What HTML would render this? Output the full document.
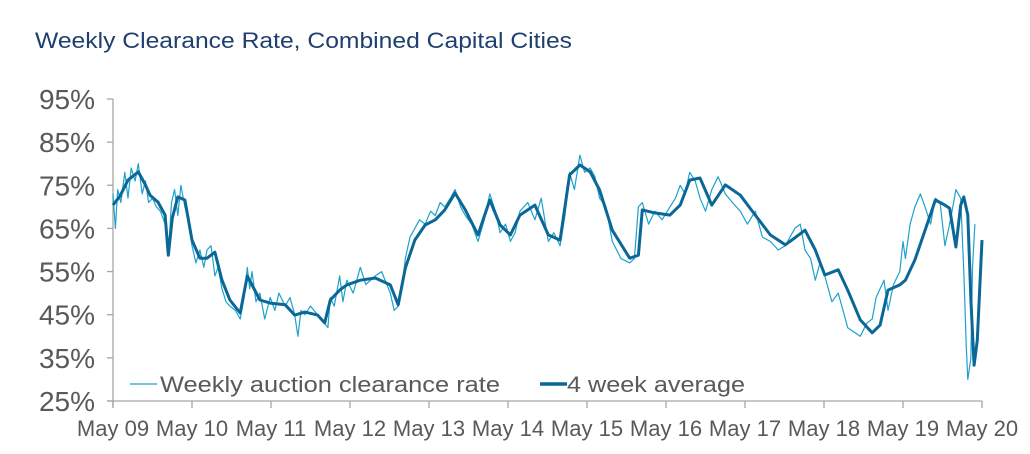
<!DOCTYPE html>
<html><head><meta charset="utf-8"><style>
html,body{margin:0;padding:0;background:#fff;}
svg{display:block;font-family:"Liberation Sans",Arial,sans-serif;}
</style></head><body>
<svg id="chart" width="1030" height="454" viewBox="0 0 1030 454">
<text x="35" y="48" font-size="22" fill="#1f3f6e" textLength="537" lengthAdjust="spacingAndGlyphs">Weekly Clearance Rate, Combined Capital Cities</text>
<g id="axes"></g>
<g id="series"></g>
<g>
<line x1="130" y1="384" x2="157" y2="384" stroke="#1da2cc" stroke-width="1.3"/>
<text x="160" y="392" font-size="22" fill="#595959" textLength="340" lengthAdjust="spacingAndGlyphs">Weekly auction clearance rate</text>
<line x1="540" y1="384" x2="567" y2="384" stroke="#0a6796" stroke-width="3.5"/>
<text x="567" y="392" font-size="22" fill="#595959" textLength="178" lengthAdjust="spacingAndGlyphs">4 week average</text>
</g>
</svg>
<script>
// years since May 2009
const yTicks = [25,35,45,55,65,75,85,95];
const xLabels = ["May 09","May 10","May 11","May 12","May 13","May 14","May 15","May 16","May 17","May 18","May 19","May 20"];
const avgDates = [0,.089,.19,.32,.41,.47,.57,.66,.70,.75,.82,.91,1.00,1.10,1.19,1.29,1.38,1.48,1.61,1.70,1.76,1.86,1.99,2.18,2.30,2.43,2.59,2.68,2.75,2.87,2.96,3.13,3.32,3.51,3.61,3.70,3.82,3.95,4.08,4.20,4.33,4.46,4.62,4.77,4.90,5.03,5.15,5.34,5.51,5.66,5.78,5.91,6.04,6.16,6.32,6.54,6.65,6.70,6.86,7.05,7.18,7.30,7.43,7.58,7.75,7.94,8.13,8.32,8.51,8.63,8.76,8.89,9.01,9.18,9.30,9.46,9.61,9.71,9.81,9.96,10.03,10.15,10.28,10.41,10.53,10.59,10.67,10.73,10.77,10.82,10.86,10.90,10.94,11.00];
const avgValues = [70.4,72.5,76.2,78.1,75.1,72.7,71.1,68.1,58.8,67.4,72.3,71.6,62.3,58.1,58.1,59.5,53.0,48.4,45.4,54.0,51.9,48.4,47.7,47.3,44.9,45.6,44.9,43.1,48.4,50.7,51.9,53.0,53.5,51.9,47.3,55.8,62.3,65.8,67.0,69.3,73.2,69.3,63.5,71.6,65.8,63.5,68.1,70.4,63.5,62.3,77.4,79.7,78.1,73.9,64.6,58.1,58.8,69.3,68.6,68.1,70.4,76.2,76.7,70.4,75.1,72.7,68.1,63.5,61.2,62.8,64.6,60.0,54.2,55.4,50.7,43.8,40.8,42.6,50.7,51.9,53.0,57.7,64.6,71.6,70.4,69.7,60.7,70.4,72.3,68.1,48.4,33.3,39.1,62.3];
const weeklyDates = [0,.03,.06,.1,.15,.19,.23,.28,.32,.37,.41,.45,.5,.55,.6,.66,.70,.74,.78,.82,.86,.91,.95,1.00,1.05,1.10,1.15,1.19,1.24,1.29,1.33,1.38,1.43,1.48,1.55,1.61,1.66,1.70,1.73,1.76,1.81,1.86,1.92,1.99,2.05,2.1,2.18,2.24,2.30,2.34,2.38,2.43,2.5,2.59,2.64,2.68,2.72,2.75,2.8,2.87,2.91,2.96,3.04,3.13,3.2,3.32,3.4,3.51,3.56,3.61,3.66,3.70,3.76,3.82,3.88,3.95,4.02,4.08,4.14,4.20,4.27,4.33,4.4,4.46,4.54,4.62,4.7,4.77,4.84,4.90,4.97,5.03,5.09,5.15,5.25,5.34,5.42,5.51,5.58,5.66,5.72,5.78,5.84,5.91,5.97,6.04,6.1,6.16,6.24,6.32,6.43,6.54,6.6,6.65,6.70,6.78,6.86,6.95,7.05,7.12,7.18,7.24,7.30,7.37,7.43,7.5,7.58,7.66,7.75,7.84,7.94,8.03,8.13,8.22,8.32,8.42,8.51,8.57,8.63,8.7,8.76,8.83,8.89,8.95,9.01,9.1,9.18,9.24,9.30,9.38,9.46,9.54,9.61,9.66,9.71,9.76,9.81,9.88,9.96,10.0,10.03,10.09,10.15,10.22,10.28,10.35,10.41,10.47,10.53,10.59,10.63,10.67,10.70,10.73,10.77,10.8,10.82,10.86,10.88,10.91,10.94,10.97,11.00];
const weeklyValues = [73,65,74,71,78,72,79,76,80,73,76,71,72,70,69,66,59,71,74,68,75,70,67,61,57,60,56,60,61,54,56,51,48,47,46,44,49,56,51,55,48,50,44,49,46,50,47,49,45,40,46,45,47,45,44,43,42,49,47,54,48,53,50,56,52,54,55,50,46,47,51,58,63,65,67,66,69,68,71,70,72,74,70,68,66,62,67,73,69,64,66,62,64,69,71,67,72,62,64,61,68,78,74,82,78,79,77,72,70,62,58,57,58,70,71,66,69,67,70,72,75,73,78,76,72,69,74,77,73,71,69,66,69,63,62,60,61,63,65,66,60,58,53,57,54,48,50,46,42,41,40,43,44,49,51,53,46,52,55,62,58,66,70,73,70,66,72,71,61,66,70,74,73,72,55,38,30,35,56,66];

const NS='http://www.w3.org/2000/svg';
const L=113,R=982,T=99,B=401;
const xs=t=>L+(R-L)*t/11;
const ys=v=>B-(B-T)*(v-25)/70;
function mk(tag,attrs,parent){const e=document.createElementNS(NS,tag);for(const k in attrs)e.setAttribute(k,attrs[k]);parent.appendChild(e);return e;}
const axes=document.getElementById('axes');
const yAxis=mk('line',{x1:L,y1:T,x2:L,y2:B+6,stroke:'#a6a6a6','stroke-width':1.3},axes);


const xAxis=mk('line',{x1:L-6,y1:B,x2:R,y2:B,stroke:'#a6a6a6','stroke-width':1.3},axes);


yTicks.forEach(v=>{
  const tk=mk('line',{x1:L-6,y1:ys(v),x2:L,y2:ys(v),stroke:'#a6a6a6','stroke-width':1.3},axes);
  
  
  const tx=mk('text',{x:95,y:ys(v)+10,'font-size':28,fill:'#595959','text-anchor':'end'},axes);
  tx.textContent=v+'%';
  
  
});
xLabels.forEach((s,i)=>{
  const x=xs(i);
  const tk=mk('line',{x1:x,y1:B,x2:x,y2:B+7,stroke:'#a6a6a6','stroke-width':1.3},axes);
  
  
  const tx=mk('text',{x:x,y:436,'font-size':22,fill:'#595959','text-anchor':'middle'},axes);
  tx.textContent=s;
  
  
});
const ser=document.getElementById('series');
const wp=mk('polyline',{points:weeklyDates.map((t,i)=>xs(t).toFixed(1)+','+ys(weeklyValues[i]).toFixed(1)).join(' '),fill:'none',stroke:'#1da2cc','stroke-width':1.2,'stroke-linejoin':'round'},ser);


const ap=mk('polyline',{points:avgDates.map((t,i)=>xs(t).toFixed(1)+','+ys(avgValues[i]).toFixed(1)).join(' '),fill:'none',stroke:'#0a6796','stroke-width':3,'stroke-linejoin':'round'},ser);


</script>
</body></html>
